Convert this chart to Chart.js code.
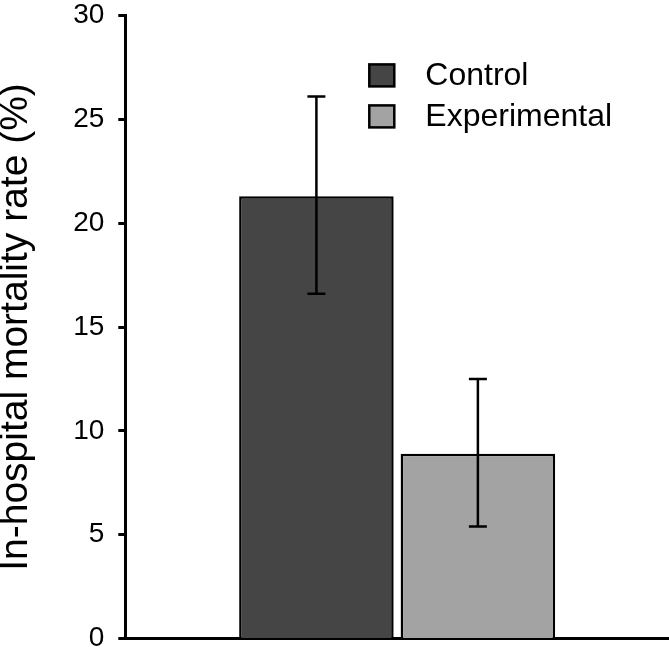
<!DOCTYPE html>
<html>
<head>
<meta charset="utf-8">
<script src="https://cdn.jsdelivr.net/npm/chart.js@4"></script>
<style>
  body { margin: 0; background: #fff; }
  #chart { display: block; }
</style>
</head>
<body>
<canvas id="chart" width="669" height="654"></canvas>
<script>
// data
const groups = ['Control', 'Experimental'];
const mortality = [21.3, 8.9];
const errLow = [16.6, 5.4];
const errHigh = [26.1, 12.5];
const barColors = ['#454545', '#a3a3a3'];
const yTicks = [0, 5, 10, 15, 20, 25, 30];

const fontFamily = "'Liberation Sans', Arial, sans-serif";

// error bars drawn over the bars
const errorBars = {
    id: 'errorBars',
    afterDatasetsDraw(chart) {
        const ctx = chart.ctx;
        const y = chart.scales.y;
        ctx.save();
        ctx.strokeStyle = '#000';
        ctx.lineWidth = 2.5;
        chart.data.datasets.forEach((ds, i) => {
            const bar = chart.getDatasetMeta(i).data[0];
            const top = y.getPixelForValue(errHigh[i]);
            const bottom = y.getPixelForValue(errLow[i]);
            ctx.beginPath();
            ctx.moveTo(bar.x, top);
            ctx.lineTo(bar.x, bottom);
            ctx.moveTo(bar.x - 9, top);
            ctx.lineTo(bar.x + 9, top);
            ctx.moveTo(bar.x - 9, bottom);
            ctx.lineTo(bar.x + 9, bottom);
            ctx.stroke();
        });
        ctx.restore();
    }
};

// legend sits inside the plot, top right
const insideLegend = {
    id: 'insideLegend',
    afterDraw(chart) {
        const ctx = chart.ctx;
        const area = chart.chartArea;
        const x0 = area.left + 244;
        const y0 = area.top + 60;
        ctx.save();
        ctx.font = '32px ' + fontFamily;
        ctx.textBaseline = 'middle';
        chart.data.datasets.forEach((ds, i) => {
            const yc = y0 + i * 41;
            ctx.fillStyle = ds.backgroundColor;
            ctx.fillRect(x0, yc - 11, 25, 22);
            ctx.strokeStyle = '#000';
            ctx.lineWidth = 2.5;
            ctx.strokeRect(x0, yc - 11, 25, 22);
            ctx.fillStyle = '#000';
            ctx.fillText(ds.label, x0 + 56, yc + 1);
        });
        ctx.restore();
    }
};

new Chart(document.querySelector('#chart'), {
    type: 'bar',
    data: {
        labels: [''],
        datasets: groups.map((g, i) => ({
            label: g,
            data: [mortality[i]],
            backgroundColor: barColors[i],
            borderColor: '#000',
            borderWidth: 2.5,
            categoryPercentage: 0.594,
            barPercentage: 0.957
        }))
    },
    options: {
        responsive: false,
        animation: false,
        layout: { padding: 0 },
        plugins: {
            legend: { display: false },
            tooltip: { enabled: false }
        },
        scales: {
            x: {
                grid: { display: false },
                ticks: { display: false },
                border: { color: '#000', width: 3 }
            },
            y: {
                min: 0,
                max: 30,
                afterBuildTicks: (scale) => {
                    scale.ticks = yTicks.map(v => ({ value: v }));
                },
                ticks: {
                    color: '#000',
                    padding: 14,
                    font: { family: fontFamily, size: 28, lineHeight: 0.1 }
                },
                grid: {
                    drawOnChartArea: false,
                    tickLength: 7,
                    tickWidth: 3,
                    tickColor: '#000'
                },
                border: { color: '#000', width: 3 },
                title: {
                    display: true,
                    text: 'In-hospital mortality rate (%)',
                    color: '#000',
                    padding: { top: 0, bottom: 26 },
                    font: { family: fontFamily, size: 39, lineHeight: 0.85 }
                }
            }
        }
    },
    plugins: [errorBars, insideLegend]
});
</script>
</body>
</html>
